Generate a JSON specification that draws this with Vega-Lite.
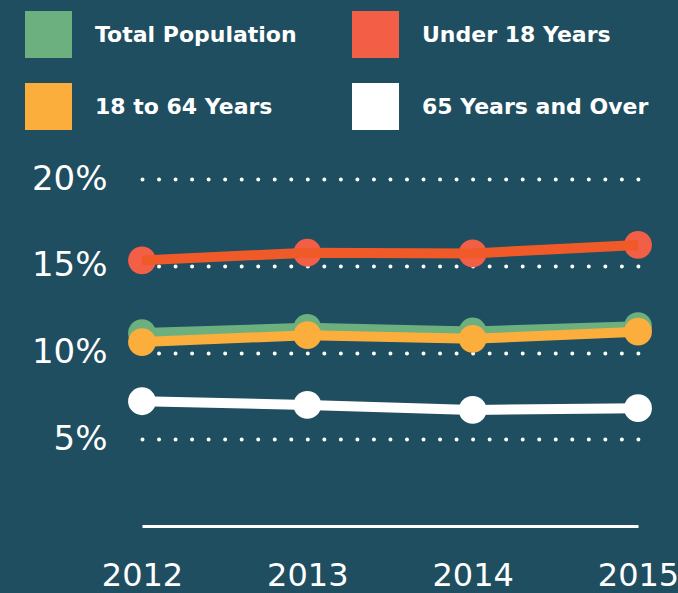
{
  "$schema": "https://vega.github.io/schema/vega-lite/v6.json",
  "autosize": {"type": "none"},
  "padding": {"left": 142, "top": 179, "right": 40, "bottom": 67},
  "width": 496,
  "height": 347,
  "background": "#1e4e5f",
  "config": {
    "view": {"stroke": null},
    "font": "DejaVu Sans"
  },
  "data": {
    "values": [
      {"year": "2012", "group": "Total Population", "value": 11.12},
      {"year": "2013", "group": "Total Population", "value": 11.42},
      {"year": "2014", "group": "Total Population", "value": 11.21},
      {"year": "2015", "group": "Total Population", "value": 11.52},
      {"year": "2012", "group": "18 to 64 Years", "value": 10.6},
      {"year": "2013", "group": "18 to 64 Years", "value": 11.0},
      {"year": "2014", "group": "18 to 64 Years", "value": 10.79},
      {"year": "2015", "group": "18 to 64 Years", "value": 11.2},
      {"year": "2012", "group": "Under 18 Years", "value": 15.31},
      {"year": "2013", "group": "Under 18 Years", "value": 15.75},
      {"year": "2014", "group": "Under 18 Years", "value": 15.71},
      {"year": "2015", "group": "Under 18 Years", "value": 16.2},
      {"year": "2012", "group": "65 Years and Over", "value": 7.19},
      {"year": "2013", "group": "65 Years and Over", "value": 6.98},
      {"year": "2014", "group": "65 Years and Over", "value": 6.69},
      {"year": "2015", "group": "65 Years and Over", "value": 6.79}
    ]
  },
  "encoding": {
    "x": {
      "field": "year", "type": "ordinal",
      "scale": {"type": "point", "padding": 0},
      "axis": {
        "title": null, "labelAngle": 0, "domain": true, "domainColor": "#ffffff", "domainWidth": 3,
        "ticks": false, "grid": false, "labelColor": "#ffffff", "labelFont": "DejaVu Sans",
        "labelFontSize": 32, "labelPadding": 34, "labelFlush": false, "labelOverlap": false
      }
    },
    "y": {
      "field": "value", "type": "quantitative",
      "scale": {"domain": [0, 20], "nice": false, "zero": true},
      "axis": {
        "title": null, "domain": false, "ticks": false, "grid": true, "gridColor": "#ffffff",
        "gridWidth": 4, "gridDash": [0, 16.53], "gridCap": "round", "gridOpacity": 1,
        "values": [5, 10, 15, 20], "labelExpr": "datum.value + '%'",
        "labelColor": "#ffffff", "labelFont": "DejaVu Sans", "labelFontSize": 34, "labelPadding": 35
      }
    }
  },
  "layer": [
    {
      "transform": [{"filter": "datum.group == 'Total Population'"}],
      "mark": {"type": "point", "filled": true, "size": 774, "opacity": 1},
      "encoding": {
        "color": {
          "field": "group", "type": "nominal",
          "scale": {"domain": ["Total Population", "18 to 64 Years", "Under 18 Years", "65 Years and Over"], "range": ["#6bb07e", "#fbae3b", "#f35e47", "#ffffff"]},
          "legend": {"title": null, "orient": "none", "legendX": -117, "legendY": -168, "columns": 2, "symbolType": "square", "symbolSize": 2209, "symbolStrokeWidth": 0, "symbolOpacity": 1, "labelFont": "DejaVu Sans", "labelFontSize": 22, "labelFontWeight": "bold", "labelColor": "#ffffff", "labelOffset": 23, "labelLimit": 400, "rowPadding": 25, "columnPadding": 55, "padding": 0}
        }
      }
    },
    {
      "transform": [{"filter": "datum.group == 'Total Population'"}],
      "mark": {"type": "line", "strokeWidth": 10, "color": "#6bb07e"},
      "encoding": {}
    },
    {
      "transform": [{"filter": "datum.group == '18 to 64 Years'"}],
      "mark": {"type": "point", "filled": true, "size": 774, "opacity": 1},
      "encoding": {
        "color": {
          "field": "group", "type": "nominal",
          "scale": {"domain": ["Total Population", "18 to 64 Years", "Under 18 Years", "65 Years and Over"], "range": ["#6bb07e", "#fbae3b", "#f35e47", "#ffffff"]},
          "legend": {"title": null, "orient": "none", "legendX": -117, "legendY": -168, "columns": 2, "symbolType": "square", "symbolSize": 2209, "symbolStrokeWidth": 0, "symbolOpacity": 1, "labelFont": "DejaVu Sans", "labelFontSize": 22, "labelFontWeight": "bold", "labelColor": "#ffffff", "labelOffset": 23, "labelLimit": 400, "rowPadding": 25, "columnPadding": 55, "padding": 0}
        }
      }
    },
    {
      "transform": [{"filter": "datum.group == '18 to 64 Years'"}],
      "mark": {"type": "line", "strokeWidth": 10, "color": "#fbae3b"},
      "encoding": {}
    },
    {
      "transform": [{"filter": "datum.group == 'Under 18 Years'"}],
      "mark": {"type": "point", "filled": true, "size": 774, "opacity": 1},
      "encoding": {
        "color": {
          "field": "group", "type": "nominal",
          "scale": {"domain": ["Total Population", "18 to 64 Years", "Under 18 Years", "65 Years and Over"], "range": ["#6bb07e", "#fbae3b", "#f35e47", "#ffffff"]},
          "legend": {"title": null, "orient": "none", "legendX": -117, "legendY": -168, "columns": 2, "symbolType": "square", "symbolSize": 2209, "symbolStrokeWidth": 0, "symbolOpacity": 1, "labelFont": "DejaVu Sans", "labelFontSize": 22, "labelFontWeight": "bold", "labelColor": "#ffffff", "labelOffset": 23, "labelLimit": 400, "rowPadding": 25, "columnPadding": 55, "padding": 0}
        }
      }
    },
    {
      "transform": [{"filter": "datum.group == 'Under 18 Years'"}],
      "mark": {"type": "line", "strokeWidth": 10, "color": "#f05a28"},
      "encoding": {}
    },
    {
      "transform": [{"filter": "datum.group == '65 Years and Over'"}],
      "mark": {"type": "point", "filled": true, "size": 774, "opacity": 1},
      "encoding": {
        "color": {
          "field": "group", "type": "nominal",
          "scale": {"domain": ["Total Population", "18 to 64 Years", "Under 18 Years", "65 Years and Over"], "range": ["#6bb07e", "#fbae3b", "#f35e47", "#ffffff"]},
          "legend": {"title": null, "orient": "none", "legendX": -117, "legendY": -168, "columns": 2, "symbolType": "square", "symbolSize": 2209, "symbolStrokeWidth": 0, "symbolOpacity": 1, "labelFont": "DejaVu Sans", "labelFontSize": 22, "labelFontWeight": "bold", "labelColor": "#ffffff", "labelOffset": 23, "labelLimit": 400, "rowPadding": 25, "columnPadding": 55, "padding": 0}
        }
      }
    },
    {
      "transform": [{"filter": "datum.group == '65 Years and Over'"}],
      "mark": {"type": "line", "strokeWidth": 10, "color": "#ffffff"},
      "encoding": {}
    }
  ]
}
